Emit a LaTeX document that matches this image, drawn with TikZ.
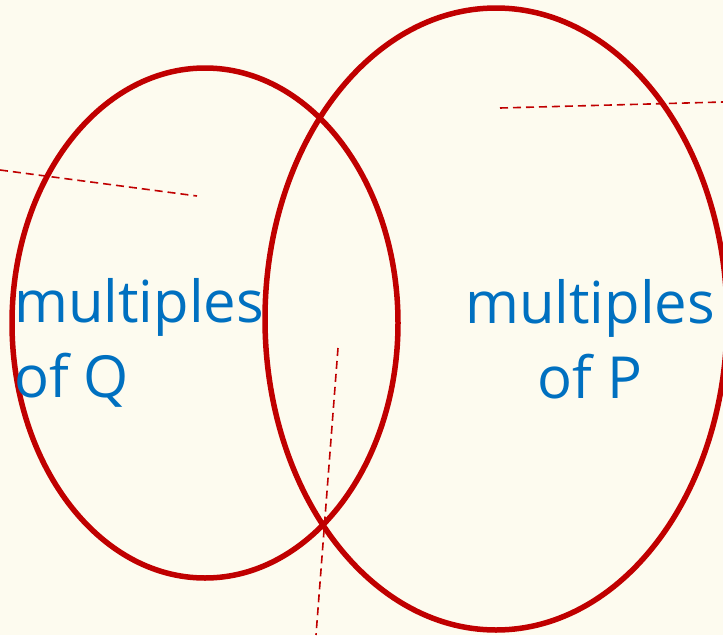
\documentclass[tikz,border=0pt]{standalone}
\usepackage{fontspec}
\setmainfont{Open Sans}
\usetikzlibrary{shapes.geometric, positioning}
\definecolor{vnBack}{HTML}{FDFBEF}
\definecolor{vnRing}{HTML}{C00000}
\definecolor{vnText}{HTML}{0070C0}
\tikzset{
  setring/.style={draw=vnRing, ellipse, line width=5.5pt, inner sep=0pt},
  setlabel/.style={text=vnText, font=\fontsize{58}{75}\selectfont, inner sep=0pt},
  guide/.style={draw=vnRing, line width=1.6pt, dash pattern=on 8pt off 5pt}
}
\begin{document}
\begin{tikzpicture}[x=1pt, y=-1pt]
  \fill[vnBack] (0,0) rectangle (723,635);
  \useasboundingbox (0,0) rectangle (723,635);
  \node[setring, minimum width=386pt, minimum height=510pt] (setQ) at (205,323) {};
  \node[setring, minimum width=462pt, minimum height=622pt] (setP) at (496,319) {};
  \node[setlabel, anchor=base west, align=left] (labQ) at (14,397) {multiples\\of Q};
  \node[setlabel, anchor=base, align=center] (labP) at (590,398) {multiples\\of P};
  % dashed guides
  \coordinate (q1) at (0,170);
  \coordinate (q2) at (197,196);
  \coordinate (p1) at (500,108);
  \coordinate (p2) at (723,102);
  \coordinate (m1) at (338,348);
  \coordinate (m2) at (316,635);
  \draw[guide] (q1) -- (q2);
  \draw[guide] (p1) -- (p2);
  \draw[guide] (m1) -- (m2);
\end{tikzpicture}
\end{document}
